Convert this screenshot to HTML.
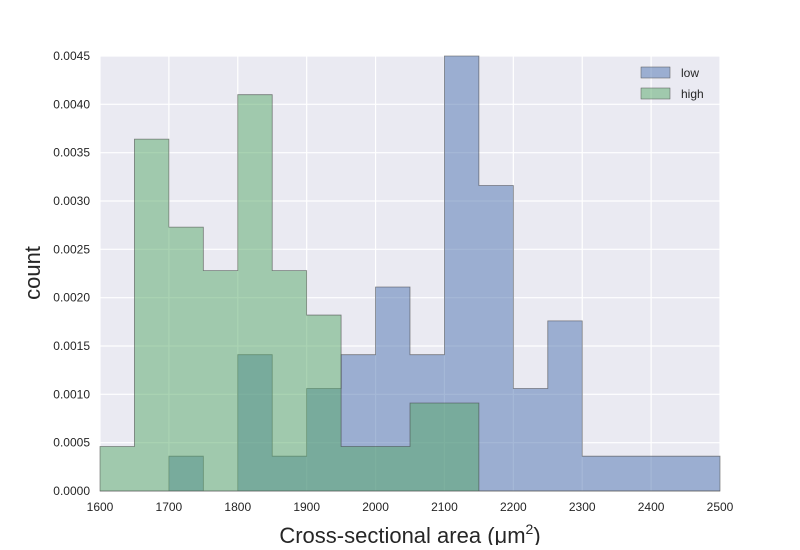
<!DOCTYPE html>
<html><head><meta charset="utf-8"><style>
body{margin:0;background:#fff;font-family:"Liberation Sans",Arial,sans-serif;}
</style></head><body>
<svg id="chart" width="800" height="545" xmlns="http://www.w3.org/2000/svg" font-family="Liberation Sans, Arial, sans-serif">
<rect x="100" y="56" width="620" height="435" fill="#EAEAF2"/>
<g id="grid"></g><g id="bars"></g><g id="ticks"></g>
<text x="410" y="543" font-size="22" text-anchor="middle" fill="#262626">Cross-sectional area (μm<tspan dy="-9" font-size="14">2</tspan><tspan dy="9">)</tspan></text>
<text transform="translate(40,273) rotate(-90)" font-size="22" text-anchor="middle" fill="#262626">count</text>
<g>
<rect x="641" y="67" width="29" height="11" fill="rgba(76,114,176,0.5)" stroke="#555" stroke-width="0.5"/>
<text x="681" y="77" font-size="12" fill="#262626">low</text>
<rect x="641" y="88" width="29" height="11" fill="rgba(85,168,104,0.5)" stroke="#555" stroke-width="0.5"/>
<text x="681" y="98" font-size="12" fill="#262626">high</text>
</g>
</svg>
<script>
const binEdges=[1600,1650,1700,1750,1800,1850,1900,1950,2000,2050,2100,2150,2200,2250,2300,2350,2400,2450,2500];
const lowValues=[0,0,0.00036,0,0.00141,0.00036,0.00106,0.00141,0.00211,0.00141,0.0045,0.00316,0.00106,0.00176,0.00036,0.00036,0.00036,0.00036];
const highValues=[0.00046,0.00364,0.00273,0.00228,0.0041,0.00228,0.00182,0.00046,0.00046,0.00091,0.00091,0,0,0,0,0,0,0];
const xTicks=[1600,1700,1800,1900,2000,2100,2200,2300,2400,2500];
const yTicks=[0,0.0005,0.001,0.0015,0.002,0.0025,0.003,0.0035,0.004,0.0045];
const NS="http://www.w3.org/2000/svg";
const xs=v=>100+(v-1600)/900*620;
const ys=v=>491-v/0.0045*435;
function mk(tag,attrs,parent){const e=document.createElementNS(NS,tag);for(const k in attrs)e.setAttribute(k,attrs[k]);parent.appendChild(e);return e;}
const grid=document.getElementById('grid'),bars=document.getElementById('bars'),ticks=document.getElementById('ticks');
xTicks.forEach(t=>{
 const l=mk('line',{x1:xs(t),x2:xs(t),y1:56,y2:491,stroke:'#fff','stroke-width':1.2},grid);
 
 
 const tx=mk('text',{x:xs(t),y:511,'font-size':12,'text-anchor':'middle',fill:'#262626'},ticks);
 tx.textContent=t;
 
 
});
yTicks.forEach(t=>{
 const l=mk('line',{x1:100,x2:720,y1:ys(t),y2:ys(t),stroke:'#fff','stroke-width':1.2},grid);
 
 
 const tx=mk('text',{x:90,y:ys(t)+4,'font-size':12,'text-anchor':'end',fill:'#262626'},ticks);
 tx.textContent=t.toFixed(4);
 
 
});
function series(vals,fill,name){
 let d='M'+xs(binEdges[0])+','+ys(0);
 vals.forEach((v,i)=>{
  d+=' L'+xs(binEdges[i])+','+ys(v)+' L'+xs(binEdges[i+1])+','+ys(v);
 });
 d+=' L'+xs(binEdges[binEdges.length-1])+','+ys(0)+' Z';
 const p=mk('path',{d:d,fill:fill,stroke:'rgba(60,60,60,0.6)','stroke-width':0.8,'stroke-linejoin':'miter'},bars);
 
 
}
series(lowValues,'rgba(76,114,176,0.5)','low');
series(highValues,'rgba(85,168,104,0.5)','high');
</script>
</body></html>
